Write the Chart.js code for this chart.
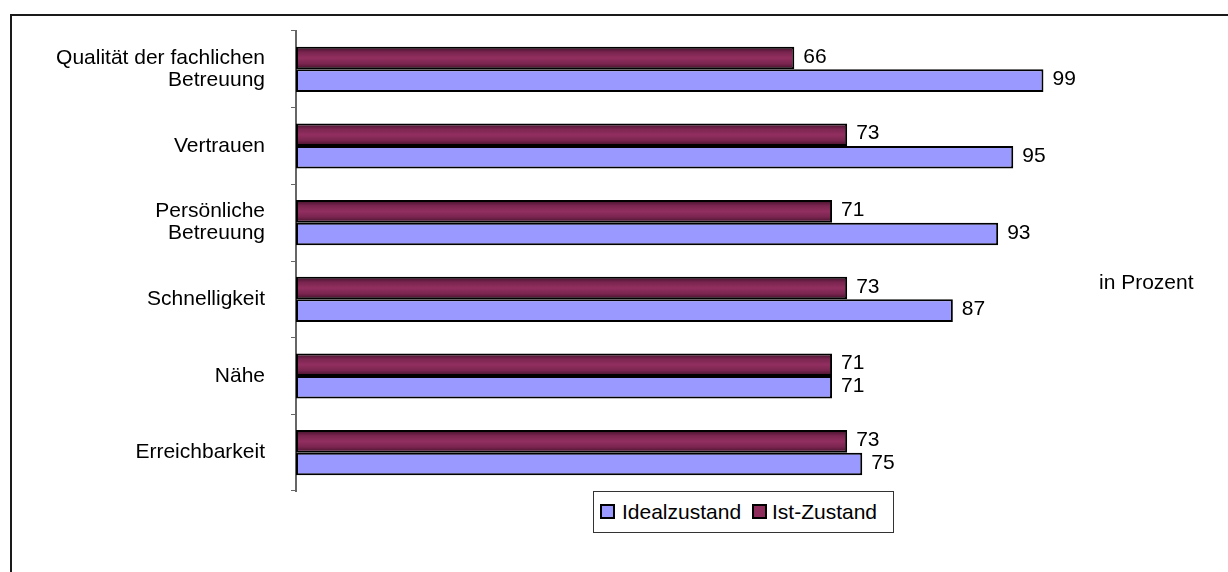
<!DOCTYPE html>
<html>
<head>
<meta charset="utf-8">
<script src="https://cdn.jsdelivr.net/npm/chart.js@4/dist/chart.umd.min.js"></script>
<style>
  html, body { margin: 0; padding: 0; width: 1228px; height: 572px; overflow: hidden; background: #fff; }
  #frame { position: absolute; left: 10px; top: 14px; width: 1400px; height: 800px; border: 2px solid #1a1a1a; box-sizing: border-box; }
  #wrap { position: absolute; left: 0; top: 0; width: 1228px; height: 572px; }
  .txt { position: absolute; font-family: 'Liberation Sans', Arial, sans-serif; font-size: 21px; line-height: 21px; color: #000; white-space: nowrap; }
  #legend { position: absolute; left: 593px; top: 491px; width: 301px; height: 42px; border: 1px solid #333; box-sizing: border-box; background: #fff; }
  .sw { position: absolute; width: 15px; height: 15px; border: 2px solid #000; box-sizing: border-box; }
</style>
</head>
<body>
<div id="frame"></div>
<div id="wrap"><canvas id="c" width="1228" height="572"></canvas></div>
<div class="txt" style="left:1099px; top:271px;">in Prozent</div>
<div id="legend">
  <div class="sw" style="left:6px; top:12px; background:#9999ff;"></div>
  <div class="txt" style="left:28px; top:9px;">Idealzustand</div>
  <div class="sw" style="left:158px; top:12px; background:#8e2c5c;"></div>
  <div class="txt" style="left:178px; top:9px;">Ist-Zustand</div>
</div>
<script>
const categories = [
  ['Qualität der fachlichen', 'Betreuung'],
  'Vertrauen',
  ['Persönliche', 'Betreuung'],
  'Schnelligkeit',
  'Nähe',
  'Erreichbarkeit'
];
const istZustand = [66, 73, 71, 73, 71, 73];
const idealzustand = [99, 95, 93, 87, 71, 75];
const seriesNames = ['Ist-Zustand', 'Idealzustand'];

const FONT = "'Liberation Sans', Arial, sans-serif";
const CAT_PCT = 0.59;

function maroonFill(ctx) {
  const chart = ctx.chart;
  if (!chart.chartArea || ctx.type !== 'data') return '#8e2c5c';
  const y = chart.scales.y;
  const band = (y.bottom - y.top) / categories.length;
  const c = y.getPixelForValue(ctx.dataIndex);
  const top = c - band * CAT_PCT / 2;
  const bot = c;
  const g = chart.ctx.createLinearGradient(0, top, 0, bot);
  g.addColorStop(0, '#3e0f26');
  g.addColorStop(0.25, '#7a2550');
  g.addColorStop(0.5, '#922f60');
  g.addColorStop(0.75, '#7a2550');
  g.addColorStop(1, '#3e0f26');
  return g;
}

const valueLabels = {
  id: 'valueLabels',
  afterDatasetsDraw(chart) {
    const c = chart.ctx;
    c.save();
    c.font = '21px ' + FONT;
    c.fillStyle = '#000';
    c.textAlign = 'left';
    c.textBaseline = 'middle';
    chart.data.datasets.forEach((ds, i) => {
      const meta = chart.getDatasetMeta(i);
      meta.data.forEach((el, j) => {
        c.fillText(String(ds.data[j]), el.x + 9, el.y - 1);
      });
    });
    c.restore();
  }
};

new Chart(document.getElementById('c'), {
  type: 'bar',
  data: {
    labels: categories,
    datasets: [
      {
        label: seriesNames[0],
        data: istZustand,
        backgroundColor: maroonFill,
        borderColor: '#000',
        borderWidth: 2,
        borderSkipped: false
      },
      {
        label: seriesNames[1],
        data: idealzustand,
        backgroundColor: '#9999ff',
        borderColor: '#000',
        borderWidth: 2,
        borderSkipped: false
      }
    ]
  },
  options: {
    indexAxis: 'y',
    responsive: false,
    animation: false,
    events: [],
    barPercentage: 1.0,
    categoryPercentage: CAT_PCT,
    layout: { padding: { left: 10, top: 31, right: 26, bottom: 81 } },
    plugins: {
      legend: { display: false },
      tooltip: { enabled: false },
      title: { display: false }
    },
    scales: {
      x: {
        display: false,
        min: 0,
        max: 120
      },
      y: {
        afterFit(s) { s.width = 286; s.paddingTop = 0; s.paddingBottom = 0; },
        grid: {
          display: true,
          drawOnChartArea: false,
          drawTicks: true,
          tickLength: 5,
          color: '#666',
          lineWidth: 1,
          offset: true
        },
        border: { display: true, color: '#666', width: 2 },
        ticks: {
          color: '#000',
          padding: 26,
          font: { family: FONT, size: 21, lineHeight: 1.05 }
        }
      }
    }
  },
  plugins: [valueLabels]
});
</script>
</body>
</html>
